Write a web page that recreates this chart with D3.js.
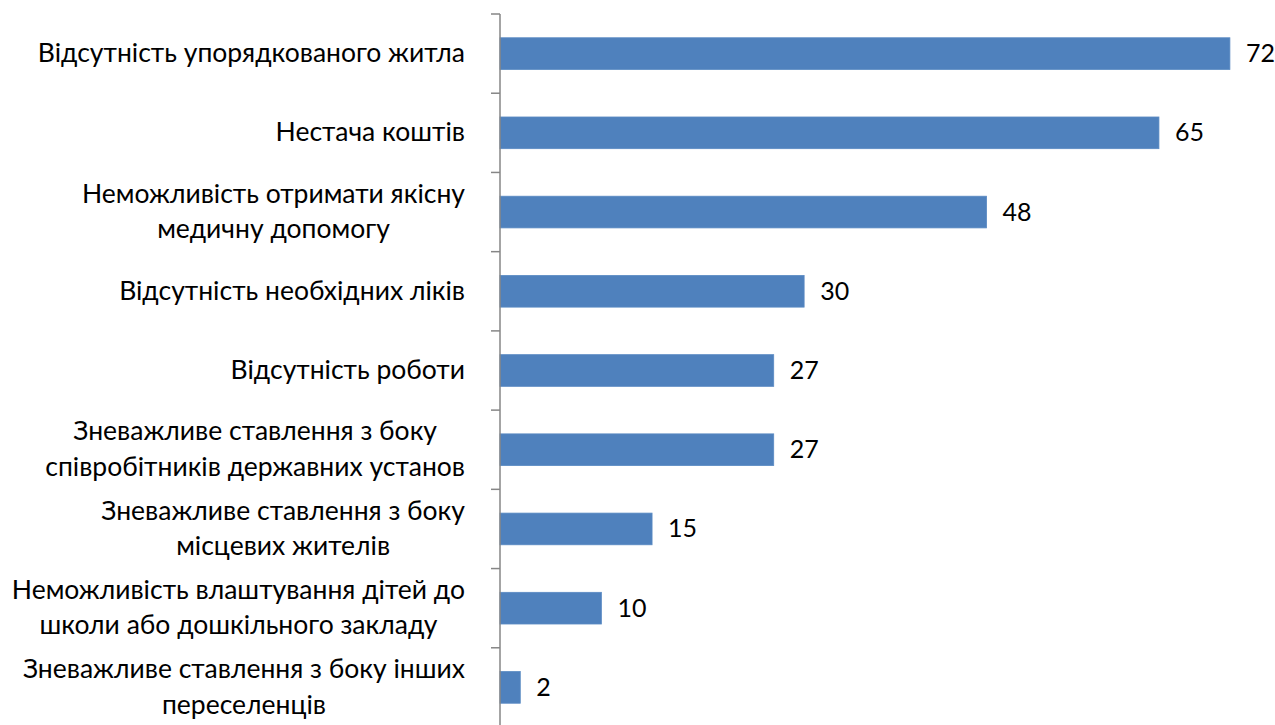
<!DOCTYPE html>
<html>
<head>
<meta charset="utf-8">
<script src="https://cdn.jsdelivr.net/npm/d3@7"></script>
<style>
  html, body { margin: 0; padding: 0; background: #ffffff; }
  svg { display: block; font-family: Lato, "Open Sans", sans-serif; }
</style>
</head>
<body>
<svg id="chart" width="1275" height="725"></svg>
<script>
// Reasons named by respondents, top to bottom (each entry lists the label's lines)
const categories = [
  ["Відсутність упорядкованого житла"],
  ["Нестача коштів"],
  ["Неможливість отримати якісну", "медичну допомогу"],
  ["Відсутність необхідних ліків"],
  ["Відсутність роботи"],
  ["Зневажливе ставлення з боку", "співробітників державних установ"],
  ["Зневажливе ставлення з боку", "місцевих жителів"],
  ["Неможливість влаштування дітей до", "школи або дошкільного закладу"],
  ["Зневажливе ставлення з боку інших", "переселенців"]
];
const values = [72, 65, 48, 30, 27, 27, 15, 10, 2];
const valueDomain = [0, 80];

const svg = d3.select("#chart");
const axisX = 500;
const labelSize = 26.5;
const valueSize = 25;
const lineGap = 35.6;

const keys = categories.map(c => c.join(" "));
const rows = keys.map((k, i) => ({ key: k, lines: categories[i], value: values[i] }));

const x = d3.scaleLinear().domain(valueDomain).range([axisX, 1311]);
const y = d3.scaleBand().domain(keys).range([14, 727]).paddingInner(0.6).paddingOuter(0.3);

// Bars
svg.append("g")
  .selectAll("rect")
  .data(rows)
  .join("rect")
  .attr("x", x(0))
  .attr("y", d => y(d.key))
  .attr("width", d => x(d.value) - x(0))
  .attr("height", y.bandwidth())
  .attr("fill", "#4f81bd")
  .attr("stroke", "#5a8ac3")
  .attr("stroke-width", 0.8);

// Value labels
svg.append("g")
  .selectAll("text")
  .data(rows)
  .join("text")
  .attr("x", d => x(d.value) + 16)
  .attr("y", d => y(d.key) + y.bandwidth() / 2 + 8.5)
  .attr("font-size", valueSize)
  .attr("fill", "#000")
  .text(d => d.value);

// Category axis: vertical line with ticks on band boundaries
const axisG = svg.append("g").attr("stroke", "#868686").attr("stroke-width", 1.5);
const step = y.step();
const axisTop = y.range()[0];
axisG.append("line")
  .attr("x1", axisX).attr("x2", axisX)
  .attr("y1", axisTop).attr("y2", axisTop + step * keys.length);
axisG.selectAll("line.tick")
  .data(d3.range(keys.length + 1))
  .join("line")
  .attr("class", "tick")
  .attr("x1", axisX - 9).attr("x2", axisX)
  .attr("y1", i => axisTop + i * step).attr("y2", i => axisTop + i * step);

// Category labels: lines centred on each other, block right-aligned to the axis
const labelRight = 465;
const labels = svg.append("g").attr("font-size", labelSize).attr("fill", "#000");
rows.forEach(d => {
  const cy = y(d.key) + y.bandwidth() / 2;
  const g = labels.append("g");
  const texts = d.lines.map((line, i) =>
    g.append("text")
      .attr("y", cy + 8.5 + (i - (d.lines.length - 1) / 2) * lineGap)
      .attr("text-anchor", "middle")
      .text(line)
  );
  const w = d3.max(texts, t => t.node().getComputedTextLength());
  texts.forEach(t => t.attr("x", labelRight - w / 2));
});
</script>
</body>
</html>
